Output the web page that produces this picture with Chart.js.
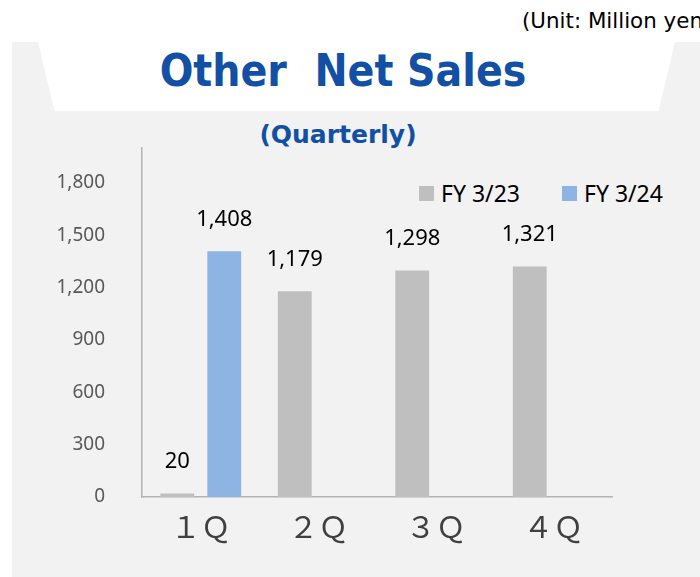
<!DOCTYPE html>
<html>
<head>
<meta charset="utf-8">
<script src="https://cdn.jsdelivr.net/npm/chart.js@4/dist/chart.umd.min.js"></script>
<style>
  html, body { margin: 0; padding: 0; }
  body { width: 700px; height: 577px; position: relative; overflow: hidden; background: #fff; font-family: "Noto Sans", sans-serif; }
  #unit { position: absolute; left: 522px; top: 8px; font-family: "DejaVu Sans", sans-serif; font-size: 21.4px; color: #000; white-space: nowrap; }
  #panel { position: absolute; left: 12px; top: 42px; right: 0; bottom: 0; background: #f2f2f2; }
  #header { position: absolute; left: 38px; top: 42px; width: 637px; height: 69px; background: #fff;
            clip-path: polygon(0 0, 100% 0, 97.4% 100%, 2.6% 100%); }
  .ttl { position: absolute; left: 0; width: 700px; text-align: center; color: #1150a5; font-family: "DejaVu Sans", sans-serif; font-weight: bold; white-space: nowrap; }
  #title { top: 45px; left: -7px; font-size: 44px; line-height: 52px; transform: scaleX(0.9); transform-origin: 50% 0; }
  #sub { top: 120px; font-size: 25px; line-height: 30px; left: -12px; }
  #legend { position: absolute; left: 419px; top: 177px; display: flex; font-size: 23px; color: #000; white-space: nowrap; }
  #legend .item { display: flex; align-items: center; margin-right: 42px; }
  #legend .box { width: 15px; height: 15px; margin-right: 7px; }
  canvas { position: absolute; left: 0; top: 0; }
</style>
</head>
<body>
<div id="unit">(Unit: Million yen)</div>
<div id="panel"></div>
<div id="header"></div>
<div class="ttl" id="title">Other&nbsp;&nbsp;Net Sales</div>
<div class="ttl" id="sub">(Quarterly)</div>
<div id="legend"></div>
<canvas id="graphique" width="700" height="577"></canvas>
<script>
// quarters and values (million yen)
const quarters = ["１Ｑ", "２Ｑ", "３Ｑ", "４Ｑ"];
const fy23 = [20, 1179, 1298, 1321];
const fy24 = [1408, null, null, null];
const seriesNames = ["FY 3/23", "FY 3/24"];
const yTicks = [0, 300, 600, 900, 1200, 1500, 1800];

const couleurs = ["#bfbfbf", "#8db4e2"];

// value labels above each bar
const etiquettes = {
  id: "etiquettes",
  afterDatasetsDraw(chart) {
    const ctx = chart.ctx;
    ctx.save();
    ctx.font = "22px 'Noto Sans'";
    ctx.fillStyle = "#000";
    ctx.textAlign = "center";
    ctx.textBaseline = "middle";
    chart.data.datasets.forEach((ds, i) => {
      chart.getDatasetMeta(i).data.forEach((bar, j) => {
        const v = ds.data[j];
        if (v === null) return;
        ctx.fillText(v.toLocaleString("en-US"), bar.x, bar.y - 32);
      });
    });
    ctx.restore();
  }
};

const data = {
  labels: quarters,
  datasets: [
    { label: seriesNames[0], data: fy23, backgroundColor: couleurs[0] },
    { label: seriesNames[1], data: fy24, backgroundColor: couleurs[1] }
  ]
};

const config = {
  type: "bar",
  data: data,
  options: {
    responsive: false,
    animation: false,
    layout: { padding: { top: 148, right: 88, bottom: 0, left: 0 } },
    datasets: { bar: { categoryPercentage: 0.8, barPercentage: 0.72 } },
    plugins: {
      legend: { display: false },
      tooltip: { enabled: false }
    },
    scales: {
      x: {
        grid: { display: false },
        border: { display: true, color: "#b4b4b4", width: 1.5 },
        ticks: { color: "#404040", font: { family: "'Noto Sans CJK JP'", size: 30 }, padding: 4 },
        afterFit: (s) => { s.height = 80; }
      },
      y: {
        min: 0,
        max: 2000,
        grid: { display: false },
        border: { display: true, color: "#b4b4b4", width: 1.5 },
        afterBuildTicks: (s) => { s.ticks = yTicks.map(v => ({ value: v })); },
        ticks: {
          color: "#595959",
          font: { family: "'Noto Sans'", size: 19 },
          padding: 29,
          callback: (v) => v.toLocaleString("en-US")
        },
        afterFit: (s) => { s.width = 142; }
      }
    }
  },
  plugins: [etiquettes]
};

new Chart(document.querySelector("#graphique"), config);

// legend built from the same series
const legende = document.querySelector("#legend");
seriesNames.forEach((nom, i) => {
  const item = document.createElement("div");
  item.className = "item";
  item.innerHTML = `<span class="box" style="background:${couleurs[i]}"></span><span>${nom}</span>`;
  legende.appendChild(item);
});
</script>
</body>
</html>
